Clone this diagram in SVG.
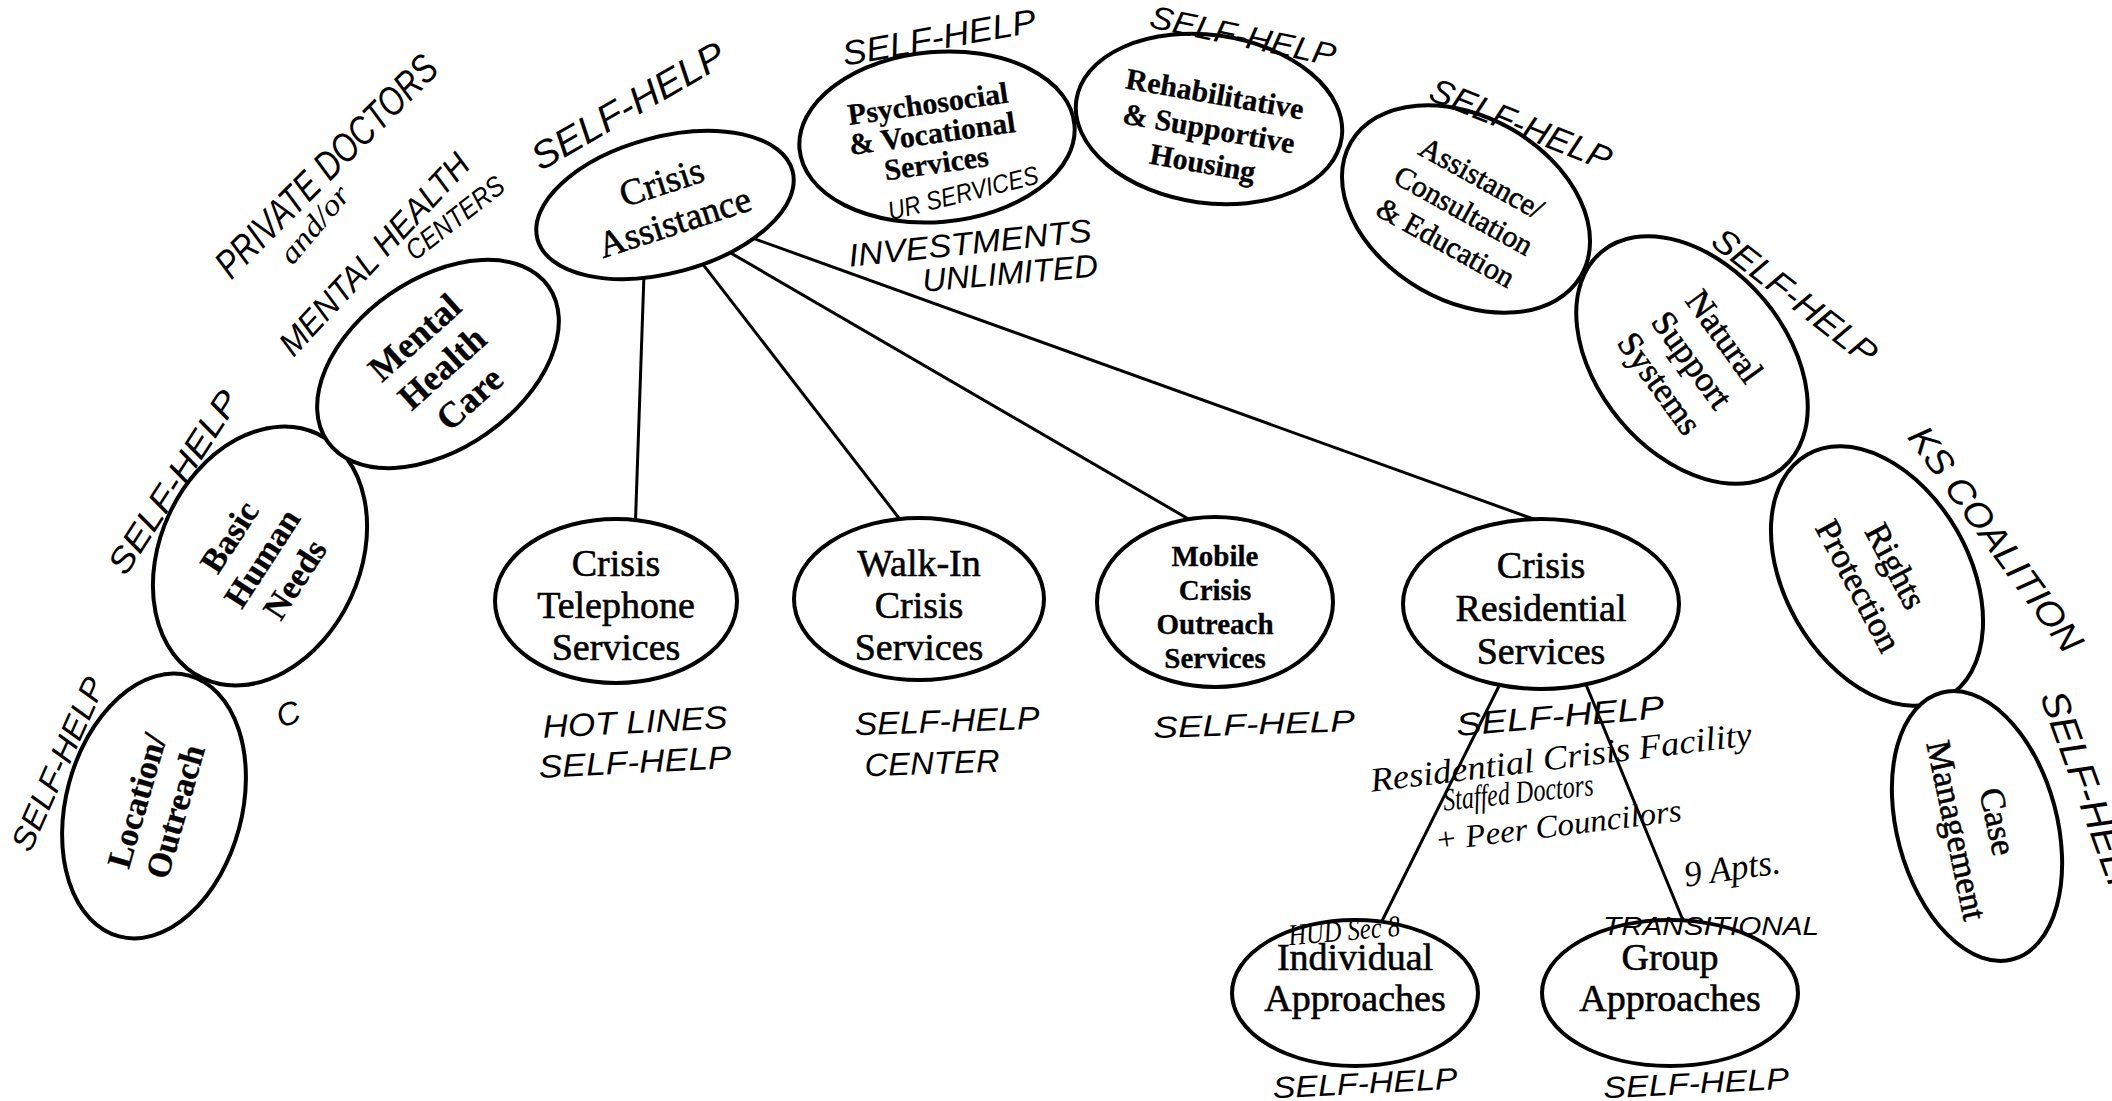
<svg xmlns="http://www.w3.org/2000/svg" width="2112" height="1101" viewBox="0 0 2112 1101">
<style>
.node ellipse{fill:#fff;stroke:#000;stroke-width:4}
.lbl{font-family:"Liberation Serif",serif;fill:#000;stroke:#000;stroke-width:0.6;text-anchor:middle;dominant-baseline:central}
.b{font-weight:bold;stroke-width:0.3}
.hw{font-family:"Liberation Sans",sans-serif;font-style:italic;fill:#000;text-anchor:middle;dominant-baseline:central}
.cur{font-family:"Liberation Serif",serif;font-style:italic;fill:#000;text-anchor:middle;dominant-baseline:central}
#connectors line{stroke:#000;stroke-width:3}
</style>
<rect width="2112" height="1101" fill="#fff"/>
<g id="connectors">
<line x1="645" y1="245" x2="635" y2="535"/>
<line x1="688" y1="245" x2="912" y2="535"/>
<line x1="717" y1="245" x2="1216" y2="535"/>
<line x1="730" y1="230" x2="1564" y2="530"/>
<line x1="1507" y1="670" x2="1375" y2="935"/>
<line x1="1580" y1="670" x2="1689" y2="935"/>
</g>
<g id="node-location" class="node">
<ellipse cx="154" cy="806" rx="88" ry="135" transform="rotate(15 154 806)"/>
<g transform="translate(156 806) rotate(-74)"><text class="lbl b" font-size="34" y="-20">Location/</text><text class="lbl b" font-size="34" y="20">Outreach</text></g>
</g>
<g id="node-basic" class="node">
<ellipse cx="260" cy="556" rx="100" ry="135" transform="rotate(25 260 556)"/>
<g transform="translate(262 558) rotate(-57)"><text class="lbl b" font-size="34" y="-39">Basic</text><text class="lbl b" font-size="34" y="0">Human</text><text class="lbl b" font-size="34" y="39">Needs</text></g>
</g>
<g id="node-mental" class="node">
<ellipse cx="438" cy="364" rx="135" ry="85" transform="rotate(-35 438 364)"/>
<g transform="translate(442 368) rotate(-42)"><text class="lbl b" font-size="36" y="-41">Mental</text><text class="lbl b" font-size="36" y="0">Health</text><text class="lbl b" font-size="36" y="41">Care</text></g>
</g>
<g id="node-crisis-assistance" class="node">
<ellipse cx="665" cy="205" rx="132" ry="68" transform="rotate(-15 665 205)"/>
<g transform="translate(668 202) rotate(-18)"><text class="lbl" font-size="37" y="-21">Crisis</text><text class="lbl" font-size="37" y="21">Assistance</text></g>
</g>
<g id="node-psychosocial" class="node">
<ellipse cx="937" cy="137" rx="138" ry="85" transform="rotate(-5 937 137)"/>
<g transform="translate(932 133) rotate(-8)"><text class="lbl b" font-size="30" y="-30">Psychosocial</text><text class="lbl b" font-size="30" y="0">&amp; Vocational</text><text class="lbl b" font-size="30" y="30">Services</text></g>
</g>
<g id="node-rehab" class="node">
<ellipse cx="1209" cy="119" rx="134" ry="84" transform="rotate(8 1209 119)"/>
<g transform="translate(1209 128) rotate(10)"><text class="lbl b" font-size="30" y="-35">Rehabilitative</text><text class="lbl b" font-size="30" y="0">&amp; Supportive</text><text class="lbl b" font-size="30" y="35">Housing</text></g>
</g>
<g id="node-assistance" class="node">
<ellipse cx="1466" cy="209" rx="133" ry="92" transform="rotate(30 1466 209)"/>
<g transform="translate(1464 210) rotate(29)"><text class="lbl" font-size="30" y="-37">Assistance/</text><text class="lbl" font-size="30" y="0">Consultation</text><text class="lbl" font-size="30" y="37">&amp; Education</text></g>
</g>
<g id="node-natural" class="node">
<ellipse cx="1692" cy="360" rx="141" ry="94" transform="rotate(50 1692 360)"/>
<g transform="translate(1692 360) rotate(54)"><text class="lbl" font-size="35" y="-40">Natural</text><text class="lbl" font-size="35" y="0">Support</text><text class="lbl" font-size="35" y="40">Systems</text></g>
</g>
<g id="node-rights" class="node">
<ellipse cx="1877" cy="576" rx="140" ry="92" transform="rotate(60 1877 576)"/>
<g transform="translate(1877 576) rotate(62)"><text class="lbl" font-size="35" y="-21">Rights</text><text class="lbl" font-size="35" y="21">Protection</text></g>
</g>
<g id="node-case" class="node">
<ellipse cx="1977" cy="826" rx="80" ry="138" transform="rotate(-15 1977 826)"/>
<g transform="translate(1977 826) rotate(78)"><text class="lbl" font-size="35" y="-21">Case</text><text class="lbl" font-size="35" y="21">Management</text></g>
</g>
<g id="node-telephone" class="node">
<ellipse cx="616" cy="601" rx="121" ry="82"/>
<text class="lbl" font-size="38" x="616" y="563">Crisis</text><text class="lbl" font-size="38" x="616" y="605">Telephone</text><text class="lbl" font-size="38" x="616" y="647">Services</text>
</g>
<g id="node-walkin" class="node">
<ellipse cx="919" cy="599" rx="125" ry="81"/>
<text class="lbl" font-size="38" x="919" y="563">Walk-In</text><text class="lbl" font-size="38" x="919" y="605">Crisis</text><text class="lbl" font-size="38" x="919" y="647">Services</text>
</g>
<g id="node-mobile" class="node">
<ellipse cx="1215" cy="602" rx="118" ry="85"/>
<text class="lbl b" font-size="29" x="1215" y="556">Mobile</text><text class="lbl b" font-size="29" x="1215" y="590">Crisis</text><text class="lbl b" font-size="29" x="1215" y="624">Outreach</text><text class="lbl b" font-size="29" x="1215" y="658">Services</text>
</g>
<g id="node-residential" class="node">
<ellipse cx="1541" cy="604" rx="138" ry="85"/>
<text class="lbl" font-size="38" x="1541" y="565">Crisis</text><text class="lbl" font-size="38" x="1541" y="608">Residential</text><text class="lbl" font-size="38" x="1541" y="651">Services</text>
</g>
<g id="node-individual" class="node">
<ellipse cx="1355" cy="993" rx="123" ry="73"/>
<text class="lbl" font-size="38" x="1355" y="957">Individual</text><text class="lbl" font-size="38" x="1355" y="998">Approaches</text>
</g>
<g id="node-group" class="node">
<ellipse cx="1670" cy="993" rx="128" ry="73"/>
<text class="lbl" font-size="38" x="1670" y="957">Group</text><text class="lbl" font-size="38" x="1670" y="998">Approaches</text>
</g>
<g id="annotations">
<text class="hw" font-size="40" textLength="296" lengthAdjust="spacingAndGlyphs" transform="translate(326 166) rotate(-45)">PRIVATE DOCTORS</text>
<text class="cur" font-size="30" textLength="92" lengthAdjust="spacingAndGlyphs" transform="translate(314 224) rotate(-50)">and/or</text>
<text class="hw" font-size="34" textLength="262" lengthAdjust="spacingAndGlyphs" transform="translate(374 254) rotate(-47)">MENTAL HEALTH</text>
<text class="hw" font-size="28" textLength="117" lengthAdjust="spacingAndGlyphs" transform="translate(455 218) rotate(-38)">CENTERS</text>
<text class="hw" font-size="38" textLength="217" lengthAdjust="spacingAndGlyphs" transform="translate(628 106) rotate(-30)">SELF-HELP</text>
<text class="hw" font-size="34" textLength="196" lengthAdjust="spacingAndGlyphs" transform="translate(939 37) rotate(-10)">SELF-HELP</text>
<text class="hw" font-size="32" textLength="189" lengthAdjust="spacingAndGlyphs" transform="translate(1243 36) rotate(12)">SELF-HELP</text>
<text class="hw" font-size="34" textLength="193" lengthAdjust="spacingAndGlyphs" transform="translate(1521 124) rotate(22)">SELF-HELP</text>
<text class="hw" font-size="34" textLength="199" lengthAdjust="spacingAndGlyphs" transform="translate(1795 296) rotate(38)">SELF-HELP</text>
<text class="hw" font-size="36" textLength="270" lengthAdjust="spacingAndGlyphs" transform="translate(1996 539) rotate(54)">KS COALITION</text>
<text class="hw" font-size="38" textLength="222" lengthAdjust="spacingAndGlyphs" transform="translate(2090 796) rotate(70)">SELF-HELP</text>
<text class="hw" font-size="34" textLength="211" lengthAdjust="spacingAndGlyphs" transform="translate(173 482) rotate(-57)">SELF-HELP</text>
<text class="hw" font-size="32" textLength="186" lengthAdjust="spacingAndGlyphs" transform="translate(58 764) rotate(-66)">SELF-HELP</text>
<text class="hw" font-size="32" transform="translate(288 714) rotate(-20)">C</text>
<text class="hw" font-size="26" textLength="154" lengthAdjust="spacingAndGlyphs" transform="translate(963 193) rotate(-14)">UR SERVICES</text>
<text class="hw" font-size="32" textLength="244" lengthAdjust="spacingAndGlyphs" transform="translate(970 243) rotate(-6)">INVESTMENTS</text>
<text class="hw" font-size="32" textLength="176" lengthAdjust="spacingAndGlyphs" transform="translate(1010 273) rotate(-5)">UNLIMITED</text>
<text class="hw" font-size="32" textLength="185" lengthAdjust="spacingAndGlyphs" transform="translate(635 722) rotate(-3)">HOT LINES</text>
<text class="hw" font-size="32" textLength="193" lengthAdjust="spacingAndGlyphs" transform="translate(635 762) rotate(-3)">SELF-HELP</text>
<text class="hw" font-size="32" textLength="185" lengthAdjust="spacingAndGlyphs" transform="translate(947 721) rotate(-2)">SELF-HELP</text>
<text class="hw" font-size="32" textLength="135" lengthAdjust="spacingAndGlyphs" transform="translate(932 763) rotate(-2)">CENTER</text>
<text class="hw" font-size="30" textLength="202" lengthAdjust="spacingAndGlyphs" transform="translate(1254 724) rotate(-2)">SELF-HELP</text>
<text class="hw" font-size="32" textLength="209" lengthAdjust="spacingAndGlyphs" transform="translate(1560 716) rotate(-5)">SELF-HELP</text>
<text class="cur" font-size="34" textLength="384" lengthAdjust="spacingAndGlyphs" transform="translate(1561 757) rotate(-7)">Residential Crisis Facility</text>
<text class="cur" font-size="32" textLength="151" lengthAdjust="spacingAndGlyphs" transform="translate(1518 792) rotate(-6)">Staffed Doctors</text>
<text class="cur" font-size="32" textLength="248" lengthAdjust="spacingAndGlyphs" transform="translate(1558 825) rotate(-7)">+ Peer Councilors</text>
<text class="cur" font-size="36" textLength="97" lengthAdjust="spacingAndGlyphs" transform="translate(1732 868) rotate(-8)">9 Apts.</text>
<text class="hw" font-size="26" textLength="216" lengthAdjust="spacingAndGlyphs" transform="translate(1711 926)">TRANSITIONAL</text>
<text class="cur" font-size="30" textLength="112" lengthAdjust="spacingAndGlyphs" transform="translate(1344 930) rotate(-5)">HUD Sec 8</text>
<text class="hw" font-size="30" textLength="185" lengthAdjust="spacingAndGlyphs" transform="translate(1365 1083) rotate(-3)">SELF-HELP</text>
<text class="hw" font-size="30" textLength="186" lengthAdjust="spacingAndGlyphs" transform="translate(1696 1083) rotate(-3)">SELF-HELP</text>
</g>
</svg>
